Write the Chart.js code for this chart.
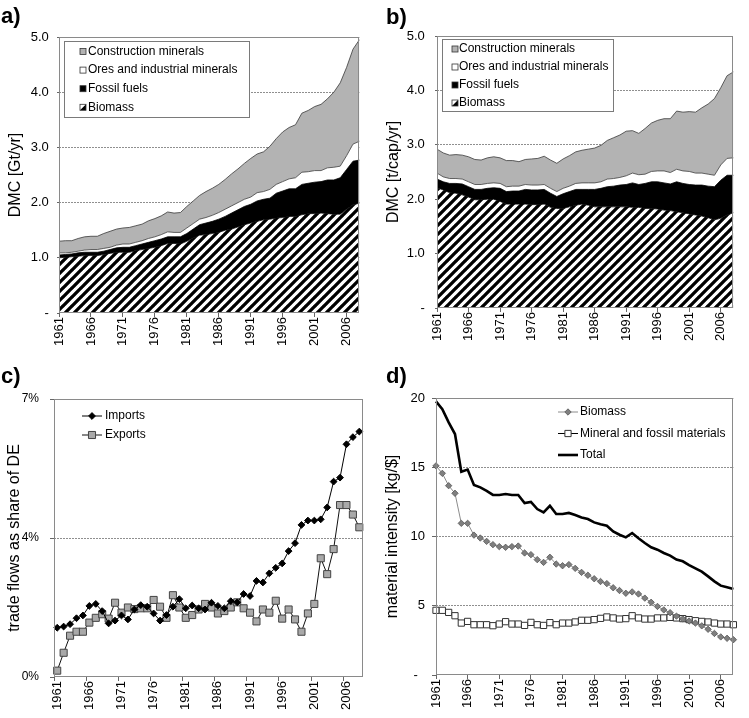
<!DOCTYPE html>
<html>
<head>
<meta charset="utf-8">
<title>DMC, trade and material intensity</title>
<script src="https://cdn.jsdelivr.net/npm/chart.js@4.4.1/dist/chart.umd.min.js"></script>
<style>
  body { margin: 0; background: #fff; }
  #fig { position: relative; width: 749px; height: 718px; overflow: hidden; background: #fff; }
  #fig canvas { position: absolute; }
  .tag { position: absolute; font: bold 22px "Liberation Sans", Arial, sans-serif; line-height: 22px; }
</style>
</head>
<body>
<div id="fig">
  <canvas id="chartA" width="375" height="360" style="left:0px; top:0px"></canvas>
  <canvas id="chartB" width="374" height="360" style="left:375px; top:0px"></canvas>
  <canvas id="chartC" width="375" height="358" style="left:0px; top:360px"></canvas>
  <canvas id="chartD" width="374" height="358" style="left:375px; top:360px"></canvas>
  <div class="tag" style="left:1px; top:5px">a)</div>
  <div class="tag" style="left:386px; top:6px">b)</div>
  <div class="tag" style="left:1px; top:365px">c)</div>
  <div class="tag" style="left:386px; top:365px">d)</div>
</div>
<script>
var FONT = '"Liberation Sans", Arial, Helvetica, sans-serif';

// Categories
var years = ['1961', '1962', '1963', '1964', '1965', '1966', '1967', '1968', '1969', '1970',
             '1971', '1972', '1973', '1974', '1975', '1976', '1977', '1978', '1979', '1980',
             '1981', '1982', '1983', '1984', '1985', '1986', '1987', '1988', '1989', '1990',
             '1991', '1992', '1993', '1994', '1995', '1996', '1997', '1998', '1999', '2000',
             '2001', '2002', '2003', '2004', '2005', '2006', '2007', '2008'];

// a) DMC [Gt/yr] by material group
var dmcBiomass = [1.00, 1.01, 1.02, 1.03, 1.04, 1.04, 1.04, 1.06, 1.08, 1.10,
                  1.10, 1.10, 1.13, 1.15, 1.17, 1.19, 1.22, 1.26, 1.26, 1.25,
                  1.30, 1.36, 1.41, 1.42, 1.44, 1.46, 1.50, 1.52, 1.56, 1.60,
                  1.63, 1.66, 1.69, 1.70, 1.72, 1.73, 1.75, 1.75, 1.78, 1.80,
                  1.80, 1.81, 1.80, 1.79, 1.79, 1.88, 1.96, 1.99];
var dmcFossil = [0.05, 0.05, 0.05, 0.06, 0.06, 0.06, 0.06, 0.06, 0.07, 0.08,
                 0.09, 0.09, 0.09, 0.10, 0.11, 0.12, 0.12, 0.12, 0.12, 0.13,
                 0.14, 0.16, 0.19, 0.21, 0.22, 0.24, 0.25, 0.29, 0.31, 0.33,
                 0.34, 0.37, 0.37, 0.38, 0.45, 0.48, 0.50, 0.50, 0.55, 0.55,
                 0.57, 0.57, 0.61, 0.62, 0.66, 0.72, 0.79, 0.78];
var dmcOres = [0.04, 0.03, 0.03, 0.03, 0.04, 0.05, 0.05, 0.05, 0.04, 0.05,
               0.06, 0.06, 0.06, 0.06, 0.07, 0.07, 0.08, 0.09, 0.08, 0.08,
               0.10, 0.10, 0.10, 0.10, 0.11, 0.12, 0.13, 0.13, 0.13, 0.13,
               0.13, 0.15, 0.14, 0.16, 0.16, 0.17, 0.18, 0.20, 0.22, 0.21,
               0.21, 0.20, 0.22, 0.23, 0.21, 0.25, 0.31, 0.34];
var dmcConstruction = [0.21, 0.22, 0.21, 0.23, 0.24, 0.24, 0.24, 0.27, 0.29, 0.29,
                       0.29, 0.30, 0.30, 0.30, 0.32, 0.33, 0.34, 0.36, 0.35, 0.36,
                       0.39, 0.41, 0.43, 0.47, 0.49, 0.51, 0.54, 0.58, 0.61, 0.65,
                       0.70, 0.70, 0.72, 0.78, 0.83, 0.90, 0.93, 0.96, 1.07, 1.11,
                       1.16, 1.20, 1.25, 1.36, 1.51, 1.60, 1.72, 1.84];

// b) DMC [t/cap/yr] by material group
var capBiomass = [2.21, 2.17, 2.12, 2.11, 2.08, 2.04, 1.99, 1.99, 2.00, 2.00,
                  1.96, 1.91, 1.91, 1.91, 1.91, 1.90, 1.90, 1.91, 1.85, 1.83,
                  1.83, 1.86, 1.89, 1.91, 1.89, 1.86, 1.86, 1.86, 1.86, 1.86,
                  1.86, 1.85, 1.85, 1.83, 1.83, 1.82, 1.80, 1.79, 1.77, 1.75,
                  1.73, 1.71, 1.69, 1.66, 1.62, 1.65, 1.71, 1.75];
var capFossil = [0.16, 0.15, 0.17, 0.18, 0.20, 0.19, 0.19, 0.19, 0.20, 0.21,
                 0.24, 0.23, 0.24, 0.24, 0.27, 0.27, 0.27, 0.27, 0.26, 0.22,
                 0.27, 0.28, 0.29, 0.27, 0.29, 0.32, 0.34, 0.37, 0.38, 0.40,
                 0.41, 0.45, 0.42, 0.46, 0.49, 0.50, 0.50, 0.49, 0.55, 0.54,
                 0.54, 0.55, 0.57, 0.58, 0.61, 0.70, 0.73, 0.69];
var capOres = [0.11, 0.09, 0.09, 0.09, 0.09, 0.09, 0.09, 0.09, 0.09, 0.09,
               0.09, 0.09, 0.09, 0.09, 0.09, 0.09, 0.09, 0.09, 0.09, 0.09,
               0.10, 0.10, 0.11, 0.12, 0.12, 0.12, 0.12, 0.14, 0.14, 0.14,
               0.16, 0.18, 0.18, 0.17, 0.19, 0.20, 0.22, 0.21, 0.23, 0.23,
               0.24, 0.22, 0.22, 0.22, 0.21, 0.28, 0.31, 0.32];
var capConstruction = [0.44, 0.44, 0.43, 0.44, 0.44, 0.46, 0.46, 0.45, 0.47, 0.48,
                       0.47, 0.48, 0.47, 0.45, 0.46, 0.48, 0.49, 0.52, 0.52, 0.52,
                       0.54, 0.56, 0.58, 0.60, 0.62, 0.64, 0.67, 0.71, 0.75, 0.78,
                       0.82, 0.78, 0.76, 0.84, 0.89, 0.93, 0.96, 0.99, 1.07, 1.08,
                       1.10, 1.12, 1.20, 1.29, 1.41, 1.42, 1.52, 1.58];

// c) trade flows as share of DE [%]
var importsShare = [1.24, 1.27, 1.33, 1.48, 1.55, 1.79, 1.84, 1.66, 1.35, 1.42,
                    1.55, 1.45, 1.70, 1.81, 1.77, 1.60, 1.42, 1.56, 1.77, 1.96,
                    1.73, 1.80, 1.73, 1.70, 1.87, 1.79, 1.73, 1.91, 1.88, 2.09,
                    2.04, 2.42, 2.38, 2.61, 2.75, 2.86, 3.17, 3.37, 3.83, 3.94,
                    3.94, 3.97, 4.27, 4.92, 5.02, 5.86, 6.04, 6.18];
var exportsShare = [0.16, 0.61, 1.04, 1.14, 1.14, 1.37, 1.49, 1.58, 1.47, 1.87,
                    1.62, 1.75, 1.71, 1.73, 1.73, 1.94, 1.77, 1.49, 2.06, 1.75,
                    1.49, 1.56, 1.70, 1.84, 1.75, 1.60, 1.66, 1.75, 1.88, 1.73,
                    1.62, 1.40, 1.70, 1.62, 1.92, 1.47, 1.70, 1.45, 1.14, 1.60,
                    1.84, 2.99, 2.59, 3.22, 4.33, 4.33, 4.09, 3.77];

// d) material intensity [kg/$]
var intensityBiomass = [15.10, 14.56, 13.67, 13.12, 10.95, 10.95, 10.10, 9.89, 9.65, 9.41,
                        9.27, 9.22, 9.27, 9.31, 8.81, 8.69, 8.33, 8.13, 8.50, 8.01,
                        7.89, 7.97, 7.70, 7.41, 7.20, 6.95, 6.75, 6.60, 6.30, 6.10,
                        5.90, 6.00, 5.85, 5.55, 5.25, 4.95, 4.70, 4.50, 4.25, 4.05,
                        3.90, 3.75, 3.55, 3.30, 3.00, 2.75, 2.65, 2.55];
var intensityMineral = [4.67, 4.67, 4.52, 4.28, 3.75, 3.87, 3.63, 3.63, 3.63, 3.56,
                        3.68, 3.85, 3.68, 3.68, 3.58, 3.80, 3.63, 3.58, 3.78, 3.63,
                        3.75, 3.75, 3.83, 3.95, 3.95, 4.00, 4.09, 4.19, 4.12, 4.04,
                        4.07, 4.28, 4.12, 4.04, 4.04, 4.12, 4.12, 4.16, 4.12, 4.07,
                        4.00, 3.92, 3.87, 3.83, 3.75, 3.68, 3.68, 3.63];
var intensityTotal = [19.76, 19.20, 18.24, 17.40, 14.68, 14.83, 13.72, 13.55, 13.30, 13.00,
                      13.00, 13.07, 13.00, 13.00, 12.42, 12.50, 11.98, 11.74, 12.22, 11.62,
                      11.62, 11.70, 11.55, 11.38, 11.26, 11.02, 10.88, 10.78, 10.37, 10.13,
                      9.94, 10.25, 9.87, 9.53, 9.22, 9.05, 8.81, 8.62, 8.33, 8.21,
                      7.94, 7.70, 7.46, 7.12, 6.76, 6.45, 6.33, 6.21];

// Tick labels
var dmcTicks = ['-  ', '1.0  ', '2.0  ', '3.0  ', '4.0  ', '5.0  '];
var shareTicks = ['0%', '4%', '7%'];
var intensityTicks = ['-  ', '5', '10', '15', '20'];

// Diagonal hatch used for biomass
function makeHatch(canvasId) {
  var s = 9;
  var tile = document.createElement('canvas');
  tile.width = s;
  tile.height = s;
  var g = tile.getContext('2d');
  g.fillStyle = '#fff';
  g.fillRect(0, 0, s, s);
  g.strokeStyle = '#000';
  g.lineWidth = 3.3;
  g.beginPath();
  for (var k = -1; k <= 1; k++) {
    g.moveTo(k * s - 1, s + 1);
    g.lineTo(k * s + s + 1, -1);
  }
  g.stroke();
  return document.getElementById(canvasId).getContext('2d').createPattern(tile, 'repeat');
}

// Gray frame round the plot area
var framePlugin = {
  id: 'frame',
  afterDatasetsDraw: function(chart) {
    var a = chart.chartArea;
    var ctx = chart.ctx;
    ctx.save();
    ctx.strokeStyle = '#8a8a8a';
    ctx.lineWidth = 1;
    ctx.strokeRect(Math.round(a.left) + 0.5, Math.round(a.top) + 0.5,
                   Math.round(a.right - a.left) - 1, Math.round(a.bottom - a.top) - 1);
    ctx.restore();
  }
};

function drawMarker(ctx, style, r, x, y) {
  ctx.beginPath();
  if (style === 'rectRot') {
    ctx.moveTo(x, y - r);
    ctx.lineTo(x + r, y);
    ctx.lineTo(x, y + r);
    ctx.lineTo(x - r, y);
    ctx.closePath();
  } else {
    var h = r * Math.SQRT1_2;
    ctx.rect(x - h, y - h, 2 * h, 2 * h);
  }
  ctx.fill();
  ctx.stroke();
}

// Legend drawn inside the plot, like the original
var legendPlugin = {
  id: 'panelLegend',
  afterDraw: function(chart, args, opts) {
    if (!opts || !opts.items) return;
    var ctx = chart.ctx;
    ctx.save();
    if (opts.box) {
      ctx.fillStyle = '#fff';
      ctx.fillRect(opts.box[0], opts.box[1], opts.box[2], opts.box[3]);
      ctx.strokeStyle = '#7a7a7a';
      ctx.lineWidth = 1;
      ctx.strokeRect(opts.box[0] + 0.5, opts.box[1] + 0.5, opts.box[2], opts.box[3]);
    }
    ctx.font = '12px ' + FONT;
    ctx.textBaseline = 'middle';
    opts.items.forEach(function(dsIndex, i) {
      var ds = chart.data.datasets[dsIndex];
      var y = opts.y + i * opts.dy;
      if (opts.kind === 'area') {
        var s = 6;
        var x0 = opts.markX - s / 2;
        var y0 = y - s / 2;
        ctx.fillStyle = ds.key === 'hatch' ? '#fff' : ds.key;
        ctx.fillRect(x0, y0, s, s);
        if (ds.key === 'hatch') {
          ctx.fillStyle = '#000';
          ctx.beginPath();
          ctx.moveTo(x0 + s, y0);
          ctx.lineTo(x0 + s, y0 + s);
          ctx.lineTo(x0, y0 + s);
          ctx.closePath();
          ctx.fill();
        }
        ctx.strokeStyle = '#333';
        ctx.lineWidth = 0.8;
        ctx.strokeRect(x0, y0, s, s);
      } else {
        ctx.strokeStyle = ds.borderColor;
        ctx.lineWidth = ds.borderWidth;
        ctx.beginPath();
        ctx.moveTo(opts.lineX[0], y);
        ctx.lineTo(opts.lineX[1], y);
        ctx.stroke();
        if (ds.pointRadius > 0) {
          ctx.fillStyle = ds.pointBackgroundColor;
          ctx.strokeStyle = ds.pointBorderColor;
          ctx.lineWidth = ds.pointBorderWidth;
          drawMarker(ctx, ds.pointStyle, ds.pointRadius, (opts.lineX[0] + opts.lineX[1]) / 2, y);
        }
      }
      ctx.fillStyle = '#000';
      ctx.fillText(ds.label, opts.textX, y);
    });
    ctx.restore();
  }
};

function areaSets(hatch, biomass, fossil, ores, construction) {
  return [
    { label: 'Biomass', data: biomass, backgroundColor: hatch, borderColor: '#000', borderWidth: 0.8, fill: 'origin', key: 'hatch' },
    { label: 'Fossil fuels', data: fossil, backgroundColor: '#000', borderColor: '#000', borderWidth: 0.8, fill: '-1', key: '#000' },
    { label: 'Ores and industrial minerals', data: ores, backgroundColor: '#fff', borderColor: '#3a3a3a', borderWidth: 0.8, fill: '-1', key: '#fff' },
    { label: 'Construction minerals', data: construction, backgroundColor: '#b3b3b3', borderColor: '#3a3a3a', borderWidth: 0.8, fill: '-1', key: '#b3b3b3' }
  ];
}

// Shared options for one panel
function panelOptions(p) {
  return {
    responsive: false,
    animation: false,
    layout: { padding: p.padding },
    elements: { point: { radius: 0 }, line: { tension: 0 } },
    plugins: {
      legend: { display: false },
      tooltip: { enabled: false },
      panelLegend: p.legend
    },
    scales: {
      x: {
        offset: p.offset,
        afterFit: function(scale) { scale.height = p.xHeight; },
        grid: {
          offset: p.offset,
          drawOnChartArea: false,
          tickLength: 4,
          color: function(c) { return c.index % 5 === 0 ? '#666' : 'rgba(0,0,0,0)'; }
        },
        border: { display: false },
        ticks: {
          autoSkip: false,
          maxRotation: 90,
          minRotation: 90,
          padding: 0,
          color: '#000',
          font: { family: FONT, size: 13 },
          callback: function(v, i) { return i % 5 === 0 ? years[i] : ''; }
        }
      },
      y: {
        stacked: p.stacked,
        min: 0,
        max: p.max,
        afterFit: function(scale) { scale.width = p.yWidth; },
        grid: {
          color: function(c) { return c.index === 0 ? 'rgba(0,0,0,0)' : '#8f8f8f'; },
          tickColor: '#666',
          tickLength: p.tickLength
        },
        border: { display: false, dash: [2, 1] },
        ticks: {
          stepSize: p.step,
          padding: p.tickPadding,
          color: '#000',
          font: { family: FONT, size: p.tickSize },
          callback: p.tickLabel
        },
        title: {
          display: true,
          text: p.title,
          color: '#000',
          font: { family: FONT, size: p.titleSize },
          padding: { top: p.titlePad, bottom: 0 }
        }
      }
    }
  };
}

// a) absolute DMC
new Chart(document.getElementById('chartA'), {
  type: 'line',
  data: { labels: years, datasets: areaSets(makeHatch('chartA'), dmcBiomass, dmcFossil, dmcOres, dmcConstruction) },
  options: panelOptions({
    padding: { top: 37, right: 9, left: 0, bottom: 0 },
    xHeight: 47, yWidth: 59, offset: false, stacked: true,
    max: 5, step: 1, tickLength: 2, tickPadding: 1, tickSize: 13,
    tickLabel: function(v) { return dmcTicks[Math.round(v)]; },
    title: 'DMC [Gt/yr]', titleSize: 16, titlePad: 6,
    legend: { kind: 'area', box: [64, 41, 185, 76], items: [3, 2, 1, 0], y: 51.5, dy: 18.6, markX: 83, textX: 88 }
  }),
  plugins: [framePlugin, legendPlugin]
});

// b) per capita DMC
new Chart(document.getElementById('chartB'), {
  type: 'line',
  data: { labels: years, datasets: areaSets(makeHatch('chartB'), capBiomass, capFossil, capOres, capConstruction) },
  options: panelOptions({
    padding: { top: 36, right: 5, left: 0, bottom: 0 },
    xHeight: 52, yWidth: 62, offset: false, stacked: true,
    max: 5, step: 1, tickLength: 2, tickPadding: 3, tickSize: 13,
    tickLabel: function(v) { return dmcTicks[Math.round(v)]; },
    title: 'DMC [t/cap/yr]', titleSize: 16, titlePad: 9,
    legend: { kind: 'area', box: [67, 39, 171, 72], items: [3, 2, 1, 0], y: 49, dy: 18, markX: 80, textX: 84 }
  }),
  plugins: [framePlugin, legendPlugin]
});

// c) imports and exports as share of domestic extraction
new Chart(document.getElementById('chartC'), {
  type: 'line',
  data: {
    labels: years,
    datasets: [
      { label: 'Imports', data: importsShare, borderColor: '#000', borderWidth: 1,
        pointStyle: 'rectRot', pointRadius: 3.4, pointBackgroundColor: '#000', pointBorderColor: '#000', pointBorderWidth: 1 },
      { label: 'Exports', data: exportsShare, borderColor: '#111', borderWidth: 1,
        pointStyle: 'rect', pointRadius: 5, pointBackgroundColor: '#a9a9a9', pointBorderColor: '#444', pointBorderWidth: 1 }
    ]
  },
  options: panelOptions({
    padding: { top: 39, right: 8, left: 0, bottom: 0 },
    xHeight: 41, yWidth: 54, offset: true, stacked: false,
    max: 7, step: 3.5, tickLength: 4, tickPadding: 11, tickSize: 12,
    tickLabel: function(v) { return shareTicks[Math.round(v / 3.5)]; },
    title: 'trade flows as share of DE', titleSize: 16, titlePad: 5,
    legend: { kind: 'line', items: [0, 1], y: 56, dy: 19, lineX: [82, 102], textX: 105 }
  }),
  plugins: [framePlugin, legendPlugin]
});

// d) material intensity of GDP
new Chart(document.getElementById('chartD'), {
  type: 'line',
  data: {
    labels: years,
    datasets: [
      { label: 'Biomass', data: intensityBiomass, borderColor: '#8c8c8c', borderWidth: 1,
        pointStyle: 'rectRot', pointRadius: 3.2, pointBackgroundColor: '#7f7f7f', pointBorderColor: '#555', pointBorderWidth: 0.8 },
      { label: 'Mineral and fossil materials', data: intensityMineral, borderColor: '#000', borderWidth: 1,
        pointStyle: 'rect', pointRadius: 4.4, pointBackgroundColor: '#fff', pointBorderColor: '#333', pointBorderWidth: 1 },
      { label: 'Total', data: intensityTotal, borderColor: '#000', borderWidth: 2.6, pointRadius: 0 }
    ]
  },
  options: panelOptions({
    padding: { top: 38, right: 6, left: 0, bottom: 0 },
    xHeight: 43, yWidth: 61, offset: false, stacked: false,
    max: 20, step: 5, tickLength: 4, tickPadding: 7, tickSize: 13,
    tickLabel: function(v) { return intensityTicks[Math.round(v / 5)]; },
    title: 'material intensity [kg/$]', titleSize: 16, titlePad: 8,
    legend: { kind: 'line', items: [0, 1, 2], y: 52, dy: 21.5, lineX: [183, 203], textX: 205 }
  }),
  plugins: [framePlugin, legendPlugin]
});
</script>
</body>
</html>
